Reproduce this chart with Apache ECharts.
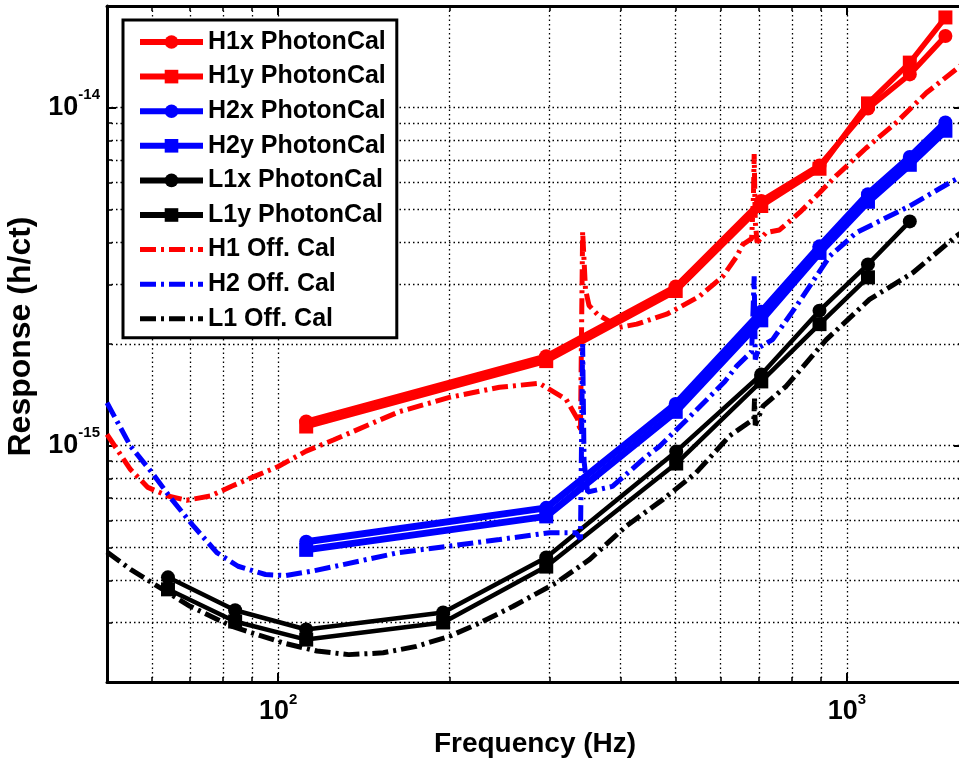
<!DOCTYPE html>
<html>
<head>
<meta charset="utf-8">
<title>Response vs frequency</title>
<script src="https://cdn.jsdelivr.net/npm/echarts@6.0.0/dist/echarts.min.js"></script>
<style>
  html, body { margin: 0; padding: 0; background: #fff; }
  #chart { width: 959px; height: 763px; }
</style>
</head>
<body>
<div id="chart"></div>
<script>
// photon calibrator points (Hz, h/ct)
const photonFreq = [112, 296, 500, 707, 895, 1089, 1290, 1490]
const h1xResp = [1.18e-15, 1.84e-15, 2.96e-15, 5.3e-15, 6.75e-15, 9.95e-15, 1.255e-14, 1.63e-14]
const h1yResp = [1.14e-15, 1.78e-15, 2.87e-15, 5.12e-15, 6.6e-15, 1.03e-14, 1.36e-14, 1.85e-14]
const h2xResp = [5.2e-16, 6.55e-16, 1.33e-15, 2.49e-15, 3.89e-15, 5.55e-15, 7.15e-15, 9.05e-15]
const h2yResp = [4.92e-16, 6.18e-16, 1.26e-15, 2.35e-15, 3.72e-15, 5.27e-15, 6.78e-15, 8.55e-15]

const l1Freq = [64, 84, 112, 195, 296, 501, 707, 895, 1089, 1290]
const l1xResp = [4.08e-16, 3.26e-16, 2.86e-16, 3.21e-16, 4.67e-16, 9.62e-16, 1.625e-15, 2.51e-15, 3.44e-15, 4.61e-15]
const l1yResp = [3.76e-16, 3.02e-16, 2.67e-16, 3.0e-16, 4.39e-16, 8.86e-16, 1.55e-15, 2.29e-15, 3.15e-15]

// official calibration curves
const h1OffFreq = [50, 55, 59, 64, 69, 76, 83, 90, 100, 112, 125, 163, 200, 245, 288, 321, 336, 340, 343, 347, 352, 364, 398, 427, 482, 508, 551, 605, 640, 656, 680, 685, 687, 690, 695, 721, 761, 826, 895, 958, 997, 1081, 1222, 1380, 1556, 1600]
const h1OffResp = [1.08e-15, 8.5e-16, 7.53e-16, 7.1e-16, 6.9e-16, 7.1e-16, 7.6e-16, 8.06e-16, 8.68e-16, 9.64e-16, 1.04e-15, 1.26e-15, 1.39e-15, 1.49e-15, 1.53e-15, 1.37e-15, 1.2e-15, 1.1e-15, 4.3e-15, 2.9e-15, 2.6e-15, 2.45e-15, 2.24e-15, 2.29e-15, 2.45e-15, 2.57e-15, 2.77e-15, 3.17e-15, 3.63e-15, 3.94e-15, 4.1e-15, 5.5e-15, 7.3e-15, 4.6e-15, 4.0e-15, 4.27e-15, 4.35e-15, 4.9e-15, 5.6e-15, 6.3e-15, 6.7e-15, 7.6e-15, 9.05e-15, 1.107e-14, 1.3e-14, 1.35e-14]

const h2OffFreq = [50, 55, 60, 65, 71, 78, 85, 95, 103, 115, 126, 163, 200, 245, 300, 334, 340, 343, 345, 350, 387, 444, 468, 540, 610, 640, 680, 687, 690, 700, 740, 815, 933, 1039, 1289, 1534, 1600]
const h2OffResp = [1.34e-15, 9.97e-16, 8.32e-16, 6.94e-16, 5.78e-16, 4.83e-16, 4.4e-16, 4.16e-16, 4.13e-16, 4.26e-16, 4.4e-16, 4.83e-16, 5.05e-16, 5.28e-16, 5.53e-16, 5.53e-16, 5.3e-16, 2.0e-15, 9.0e-16, 7.3e-16, 7.58e-16, 9.3e-16, 9.95e-16, 1.26e-15, 1.55e-15, 1.72e-15, 1.9e-15, 3.17e-15, 1.8e-15, 1.95e-15, 2.06e-15, 2.59e-15, 3.64e-15, 4.27e-15, 5.12e-15, 6.07e-15, 6.3e-15]

const l1OffFreq = [50, 55, 60, 70, 83, 102, 117, 133, 153, 175, 200, 226, 259, 308, 353, 409, 475, 543, 622, 686, 688, 690, 712, 782, 920, 1096, 1306, 1557, 1600]
const l1OffResp = [4.85e-16, 4.31e-16, 3.93e-16, 3.35e-16, 2.92e-16, 2.61e-16, 2.47e-16, 2.41e-16, 2.44e-16, 2.55e-16, 2.73e-16, 2.99e-16, 3.35e-16, 3.93e-16, 4.61e-16, 5.78e-16, 6.94e-16, 8.32e-16, 1.07e-15, 1.2e-15, 1.38e-15, 1.15e-15, 1.31e-15, 1.5e-15, 2.06e-15, 2.71e-15, 3.25e-15, 4.17e-15, 4.3e-15]

// axes
const xMin = 50
const xMax = 1600
const yMin = 2e-16
const yMax = 2e-14
const xMajorTicks = [100, 1000]
const xMinorTicks = [60, 70, 80, 90, 200, 300, 400, 500, 600, 700, 800, 900]
const yMajorTicks = [1e-15, 1e-14]
const yMinorTicks = [3e-16, 4e-16, 5e-16, 6e-16, 7e-16, 8e-16, 9e-16, 2e-15, 3e-15, 4e-15, 5e-15, 6e-15, 7e-15, 8e-15, 9e-15]

const FONT = 'Liberation Sans, Arial, Helvetica, sans-serif'
const DASH_DOT = [16, 5, 3, 5]

const zip = (xs, ys) => ys.map((y, i) => [xs[i], y])

const gridDots = { show: true, lineStyle: { color: '#000', width: 1.3, type: [1.5, 3] } }
const boxLine = { show: true, onZero: false, lineStyle: { color: '#000', width: 3 } }

const powLabel = {
  show: true,
  formatter: v => '{b|10}{s|' + Math.round(Math.log10(v)) + '}',
  rich: {
    b: { fontFamily: FONT, fontSize: 27, fontWeight: 'bold', color: '#000', lineHeight: 40 },
    s: { fontFamily: FONT, fontSize: 15, fontWeight: 'bold', color: '#000', lineHeight: 15, verticalAlign: 'top' }
  }
}

// one log axis; extra overrides the pieces that differ
const logAxis = (isX, position, ticks, tickLen, extra) => Object.assign({
  type: 'log',
  gridIndex: 0,
  position: position,
  min: isX ? xMin : yMin,
  max: isX ? xMax : yMax,
  axisLine: { show: false },
  axisTick: {
    show: true, inside: true, length: tickLen, customValues: ticks,
    lineStyle: { color: '#000', width: tickLen > 6 ? 2 : 1.5 }
  },
  axisLabel: { show: false },
  splitLine: { show: false },
  minorTick: { show: false },
  minorSplitLine: { show: false }
}, extra)

const photon = (name, data, color, symbol, width) => ({
  name: name,
  type: 'line',
  data: data,
  symbol: symbol,
  symbolSize: 14,
  showSymbol: true,
  color: color,
  lineStyle: { color: color, width: width },
  itemStyle: { color: color },
  emphasis: { disabled: true }
})

const offCal = (name, data, color) => ({
  name: name,
  type: 'line',
  data: data,
  symbol: 'none',
  showSymbol: false,
  color: color,
  lineStyle: { color: color, width: 5, type: DASH_DOT },
  emphasis: { disabled: true }
})

const photonNames = ['H1x PhotonCal', 'H1y PhotonCal', 'H2x PhotonCal', 'H2y PhotonCal', 'L1x PhotonCal', 'L1y PhotonCal']
const offNames = ['H1 Off. Cal', 'H2 Off. Cal', 'L1 Off. Cal']

const chart = echarts.init(document.getElementById('chart'), null, { renderer: 'canvas' })

chart.setOption({
  backgroundColor: '#fff',
  animation: false,
  textStyle: { fontFamily: FONT },
  grid: { left: 107, top: 6, width: 856, height: 676, outerBoundsMode: 'none', containLabel: false },
  legend: {
    orient: 'vertical',
    left: 123,
    top: 20,
    padding: [8, 11, 5, 14],
    itemWidth: 63,
    itemHeight: 17,
    itemGap: 6.6,
    backgroundColor: '#fff',
    borderColor: '#000',
    borderWidth: 3,
    borderRadius: 0,
    selectedMode: false,
    data: photonNames.map(n => ({ name: n, lineStyle: { width: 6 } }))
      .concat(offNames.map(n => ({
        name: n,
        lineStyle: { width: 5, type: DASH_DOT },
        itemStyle: { color: 'rgba(0,0,0,0)', borderWidth: 0, opacity: 0 }
      }))),
    textStyle: { fontFamily: FONT, fontSize: 25, fontWeight: 'bold', color: '#000', lineHeight: 28 }
  },
  xAxis: [
    logAxis(true, 'bottom', xMajorTicks, 9, {
      axisLine: boxLine,
      axisLabel: Object.assign({ customValues: xMajorTicks, margin: 10 }, powLabel),
      splitLine: gridDots,
      name: 'Frequency (Hz)',
      nameLocation: 'middle',
      nameGap: 45,
      nameTextStyle: { fontFamily: FONT, fontSize: 28, fontWeight: 'bold', color: '#000' }
    }),
    logAxis(true, 'bottom', xMinorTicks, 5, { splitLine: gridDots }),
    logAxis(true, 'top', xMajorTicks, 9, { axisLine: boxLine }),
    logAxis(true, 'top', xMinorTicks, 5, {})
  ],
  yAxis: [
    logAxis(false, 'left', yMajorTicks, 9, {
      axisLine: boxLine,
      axisLabel: Object.assign({ customValues: yMajorTicks, margin: 7 }, powLabel),
      splitLine: gridDots,
      name: 'Response (h/ct)',
      nameLocation: 'middle',
      nameGap: 64,
      nameTextStyle: { fontFamily: FONT, fontSize: 32, fontWeight: 'bold', color: '#000', padding: [0, 0, 0, 15] }
    }),
    logAxis(false, 'left', yMinorTicks, 5, { splitLine: gridDots }),
    logAxis(false, 'right', yMajorTicks, 9, { axisLine: boxLine }),
    logAxis(false, 'right', yMinorTicks, 5, {})
  ],
  series: [
    photon('H1x PhotonCal', zip(photonFreq, h1xResp), '#ff0000', 'circle', 5.5),
    photon('H1y PhotonCal', zip(photonFreq, h1yResp), '#ff0000', 'rect', 5.5),
    photon('H2x PhotonCal', zip(photonFreq, h2xResp), '#0000ff', 'circle', 7),
    photon('H2y PhotonCal', zip(photonFreq, h2yResp), '#0000ff', 'rect', 7),
    photon('L1x PhotonCal', zip(l1Freq, l1xResp), '#000000', 'circle', 4.5),
    photon('L1y PhotonCal', zip(l1Freq, l1yResp), '#000000', 'rect', 4.5),
    offCal('H1 Off. Cal', zip(h1OffFreq, h1OffResp), '#ff0000'),
    offCal('H2 Off. Cal', zip(h2OffFreq, h2OffResp), '#0000ff'),
    offCal('L1 Off. Cal', zip(l1OffFreq, l1OffResp), '#000000')
  ]
})

window.addEventListener('resize', () => chart.resize())
</script>
</body>
</html>
